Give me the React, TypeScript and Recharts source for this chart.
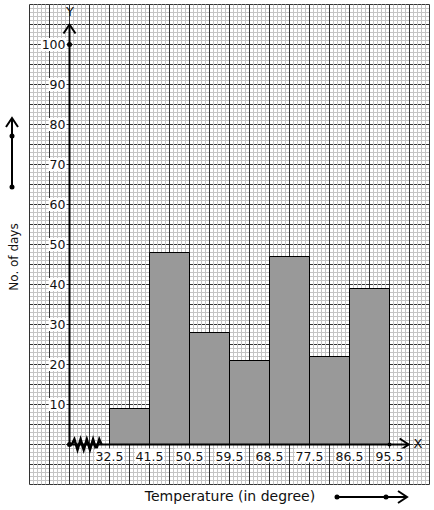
import {
  ComposedChart,
  Bar,
  Line,
  XAxis,
  YAxis,
  CartesianGrid,
  ReferenceLine,
  ReferenceDot,
} from "recharts";

// class boundaries of the temperature groups
const classBounds = [32.5, 41.5, 50.5, 59.5, 68.5, 77.5, 86.5, 95.5];
// number of days falling in each class
const days = [9, 48, 28, 21, 47, 22, 39];
const yTickLabels = [10, 20, 30, 40, 50, 60, 70, 80, 90, 100];
const xTickLabels = ["32.5", "41.5", "50.5", "59.5", "68.5", "77.5", "86.5", "95.5"];

// kink on the x axis between the origin and 32.5
const kinkX = [24.0, 24.6, 25.3, 26.0, 26.7, 27.4, 28.1, 28.8, 29.5, 30.2, 30.7];
const kinkY = [0, 1.3, -1.3, 1.3, -1.3, 1.3, -1.3, 1.3, -1.3, 1.3, 0];

const X_DOMAIN: [number, number] = [14.5, 104.5];
const Y_DOMAIN: [number, number] = [-10, 110];
const ORIGIN_X = 23.5;
const Y_AXIS_END = 105;
const X_AXIS_END = 99.8;

const histData = days.map((d, i) => ({
  x: (classBounds[i] + classBounds[i + 1]) / 2,
  days: d,
}));
const kinkData = kinkX.map((x, i) => ({ x, y: kinkY[i] }));

// graph paper lines: small squares, bold line every 5 squares
function steps(from: number, to: number, step: number) {
  const out: number[] = [];
  for (let k = 0; from + k * step <= to + 1e-9; k++) out.push(+(from + k * step).toFixed(4));
  return out;
}
const minorX = steps(X_DOMAIN[0], X_DOMAIN[1], 0.9);
const majorX = steps(X_DOMAIN[0], X_DOMAIN[1], 4.5);
const minorY = steps(Y_DOMAIN[0], Y_DOMAIN[1], 1);
const majorY = steps(Y_DOMAIN[0], Y_DOMAIN[1], 5);

// map a value through the axis scale (function in older versions, object with map() in newer)
function toPx(scale: any, v: number, lo: number, len: number, dom: [number, number], flip: boolean) {
  let px: any = NaN;
  if (typeof scale === "function") px = scale(v);
  else if (scale && typeof scale.map === "function") px = scale.map(v);
  if (typeof px === "number" && isFinite(px)) return px;
  const t = (v - dom[0]) / (dom[1] - dom[0]);
  return flip ? lo + len * (1 - t) : lo + len * t;
}
const verticalAt = (values: number[]) => ({ xAxis, offset }: any) =>
  values.map((v) => toPx(xAxis?.scale, v, offset.left, offset.width, X_DOMAIN, false));
const horizontalAt = (values: number[]) => ({ yAxis, offset }: any) =>
  values.map((v) => toPx(yAxis?.scale, v, offset.top, offset.height, Y_DOMAIN, true));

const FONT = "DejaVu Sans, sans-serif";
const MINOR = "#c4c4c4";
const MAJOR = "#333";

function YTick({ cx, cy, text }: any) {
  const w = text.length * 7.9;
  const right = cx - 4;
  return (
    <g>
      <rect x={right - w - 1} y={cy - 6.5} width={w + 2} height={13} fill="#fff" />
      <text x={right} y={cy} textAnchor="end" dominantBaseline="central" fontFamily={FONT} fontSize={12.5} fill="#111">
        {text}
      </text>
    </g>
  );
}

function XTick({ cx, cy, text }: any) {
  const w = text.length * 6.8;
  return (
    <g>
      <rect x={cx - w / 2 - 1} y={cy + 4} width={w + 2} height={14} fill="#fff" />
      <text x={cx} y={cy + 11.5} textAnchor="middle" dominantBaseline="central" fontFamily={FONT} fontSize={12.5} fill="#111">
        {text}
      </text>
    </g>
  );
}

export default function App() {
  return (
    <div style={{ position: "fixed", left: 0, top: 0, width: 434, height: 510, background: "#fff" }}>
      <ComposedChart
        width={434}
        height={510}
        data={histData}
        barCategoryGap={0}
        margin={{ top: 4.5, right: 4.5, bottom: 25.5, left: 29.5 }}
      >
        <XAxis xAxisId="main" dataKey="x" type="number" domain={X_DOMAIN} allowDataOverflow hide />
        <XAxis xAxisId="kink" dataKey="x" type="number" domain={X_DOMAIN} allowDataOverflow hide />
        <YAxis yAxisId="main" type="number" domain={Y_DOMAIN} allowDataOverflow hide />

        <CartesianGrid xAxisId="main" yAxisId="main" vertical={false} stroke={MINOR} horizontalCoordinatesGenerator={horizontalAt(minorY)} />
        <CartesianGrid xAxisId="main" yAxisId="main" vertical={false} stroke={MAJOR} horizontalCoordinatesGenerator={horizontalAt(majorY)} />
        <CartesianGrid xAxisId="main" yAxisId="main" horizontal={false} stroke={MINOR} verticalCoordinatesGenerator={verticalAt(minorX)} />
        <CartesianGrid xAxisId="main" yAxisId="main" horizontal={false} stroke={MAJOR} verticalCoordinatesGenerator={verticalAt(majorX)} />

        <Bar
          xAxisId="main"
          yAxisId="main"
          dataKey="days"
          fill="#999"
          stroke="#000"
          strokeWidth={1}
          isAnimationActive={false}
        />
        <Line
          xAxisId="kink"
          yAxisId="main"
          data={kinkData}
          dataKey="y"
          stroke="#000"
          strokeWidth={2.5}
          dot={false}
          activeDot={false}
          isAnimationActive={false}
        />

        <ReferenceLine
          xAxisId="main"
          yAxisId="main"
          segment={[{ x: ORIGIN_X, y: 0 }, { x: ORIGIN_X, y: Y_AXIS_END }]}
          stroke="#000"
          strokeWidth={2}
          markerEnd="url(#openArrow)"
        />
        <ReferenceLine
          xAxisId="main"
          yAxisId="main"
          segment={[{ x: ORIGIN_X, y: 0 }, { x: X_AXIS_END, y: 0 }]}
          stroke="#000"
          strokeWidth={2}
          markerEnd="url(#openArrow)"
        />
        <ReferenceDot xAxisId="main" yAxisId="main" x={ORIGIN_X} y={0} r={2.5} fill="#000" stroke="none" />
        <ReferenceDot xAxisId="main" yAxisId="main" x={ORIGIN_X} y={100} r={2.5} fill="#000" stroke="none" />
        <ReferenceDot xAxisId="main" yAxisId="main" x={classBounds[classBounds.length - 1]} y={0} r={2} fill="#000" stroke="none" />

        {yTickLabels.map((v) => (
          <ReferenceDot
            key={`y-${v}`}
            xAxisId="main"
            yAxisId="main"
            x={ORIGIN_X}
            y={v}
            r={0}
            shape={(p: any) => <YTick cx={p.cx} cy={p.cy} text={String(v)} />}
          />
        ))}
        {classBounds.map((b, i) => (
          <ReferenceDot
            key={`x-${b}`}
            xAxisId="main"
            yAxisId="main"
            x={b}
            y={0}
            r={0}
            shape={(p: any) => <XTick cx={p.cx} cy={p.cy} text={xTickLabels[i]} />}
          />
        ))}
      </ComposedChart>

      <svg
        width={434}
        height={510}
        style={{ position: "absolute", left: 0, top: 0, pointerEvents: "none" }}
        fontFamily={FONT}
      >
        <defs>
          <marker
            id="openArrow"
            markerUnits="userSpaceOnUse"
            markerWidth={16}
            markerHeight={16}
            refX={10}
            refY={8}
            orient="auto"
            overflow="visible"
          >
            <path d="M 1 2 L 10 8 L 1 14" fill="none" stroke="#000" strokeWidth={2} />
          </marker>
        </defs>
        <text x={70} y={11} textAnchor="middle" dominantBaseline="central" fontSize={13} fill="#111">Y</text>
        <text x={418} y={443} textAnchor="middle" dominantBaseline="central" fontSize={13} fill="#111">X</text>

        <text
          x={13.5}
          y={257}
          transform="rotate(-90 13.5 257)"
          textAnchor="middle"
          dominantBaseline="central"
          fontSize={12}
          fill="#111"
        >
          No. of days
        </text>
        <text x={230} y={496} textAnchor="middle" dominantBaseline="central" fontSize={14} fill="#111">
          Temperature (in degree)
        </text>

        <line x1={12} y1={187} x2={12} y2={118} stroke="#000" strokeWidth={2} markerEnd="url(#openArrow)" />
        <circle cx={12} cy={187} r={2.5} fill="#000" />
        <circle cx={12} cy={136} r={2.5} fill="#000" />

        <line x1={337} y1={497} x2={407} y2={497} stroke="#000" strokeWidth={2} markerEnd="url(#openArrow)" />
        <circle cx={337} cy={497} r={2.5} fill="#000" />
        <circle cx={386} cy={497} r={2.5} fill="#000" />
      </svg>
    </div>
  );
}
